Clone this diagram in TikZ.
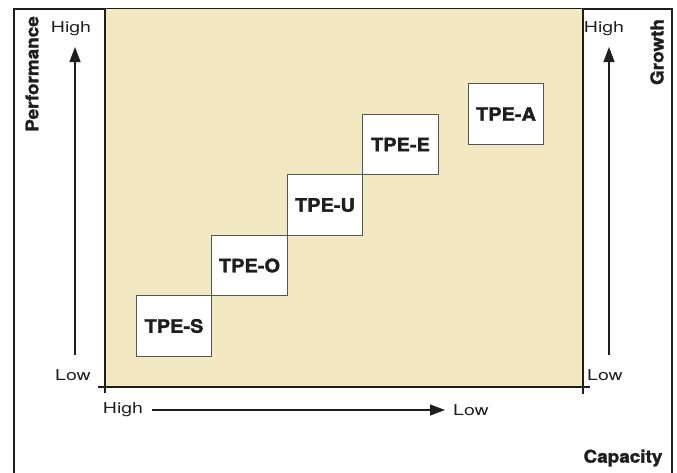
\documentclass[tikz,border=0pt]{standalone}
\usepackage{fontspec}
\setmainfont{TeX Gyre Heros}
\newfontfamily\lightf[FakeStretch=1.3]{TeX Gyre Heros}
\newfontfamily\heavyf[FakeStretch=1.08,FakeBold=1.6]{TeX Gyre Heros}
\usetikzlibrary{arrows.meta}
\definecolor{beige}{HTML}{F2E8C2}
\definecolor{boxedge}{HTML}{555555}
\definecolor{ink}{HTML}{1E1E1E}
\tikzset{
  tpebox/.style={draw=boxedge,line width=1pt,fill=white,minimum width=75.5pt,minimum height=60.5pt,inner sep=0pt,font=\heavyf\bfseries\fontsize{18.5}{20}\selectfont,text=ink},
  lvl/.style={font=\lightf\fontsize{15}{17}\selectfont,text=ink,inner sep=0pt},
  axlbl/.style={font=\heavyf\bfseries\fontsize{17.5}{18}\selectfont,text=ink,inner sep=0pt},
  axarrow/.style={draw=ink,line width=1.3pt,-{Triangle[length=15pt,width=11pt]}},
  frame/.style={draw=ink,line width=1.2pt}
}
\begin{document}
\begin{tikzpicture}[x=1pt,y=-1pt]
\useasboundingbox (0,0) rectangle (677,472);
% outer frame (open at bottom)
\draw[frame] (14,473) -- (14,9) -- (672,9) -- (672,473);
% beige field
\fill[beige] (105,9) rectangle (583,387);
\draw[frame] (105,9) -- (105,393);
\draw[frame] (583,9) -- (583,394);
\draw[draw=ink,line width=2pt] (98,387) -- (590,387);
% boxes
\node[tpebox] (S) at (174,326) {TPE-S};
\node[tpebox] (O) at (249.5,265.5) {TPE-O};
\node[tpebox] (U) at (325,205) {TPE-U};
\node[tpebox] (E) at (400.5,144.5) {TPE-E};
\node[tpebox] (A) at (506,114) {TPE-A};
% left axis
\coordinate (pl) at (75,355);
\coordinate (ph) at (75,47);
\draw[axarrow] (pl) -- (ph);
\node[lvl] (phigh) at (71,29) {High};
\node[lvl] (plow) at (73,375) {Low};
\node[axlbl,rotate=90] (perf) at (32,74) {Performance};
% right axis
\coordinate (gl) at (609,355);
\coordinate (gh) at (609,47);
\draw[axarrow] (gl) -- (gh);
\node[lvl] (ghigh) at (604,29) {High};
\node[lvl] (glow) at (605,375) {Low};
\node[axlbl,rotate=90] (grow) at (657,52) {Growth};
% bottom axis
\coordinate (ch) at (152,410);
\coordinate (cl) at (445,410);
\draw[axarrow] (ch) -- (cl);
\node[lvl] (chigh) at (123,410) {High};
\node[lvl] (clow) at (471,410) {Low};
\node[axlbl] (cap) at (623,458) {Capacity};
\end{tikzpicture}
\end{document}
